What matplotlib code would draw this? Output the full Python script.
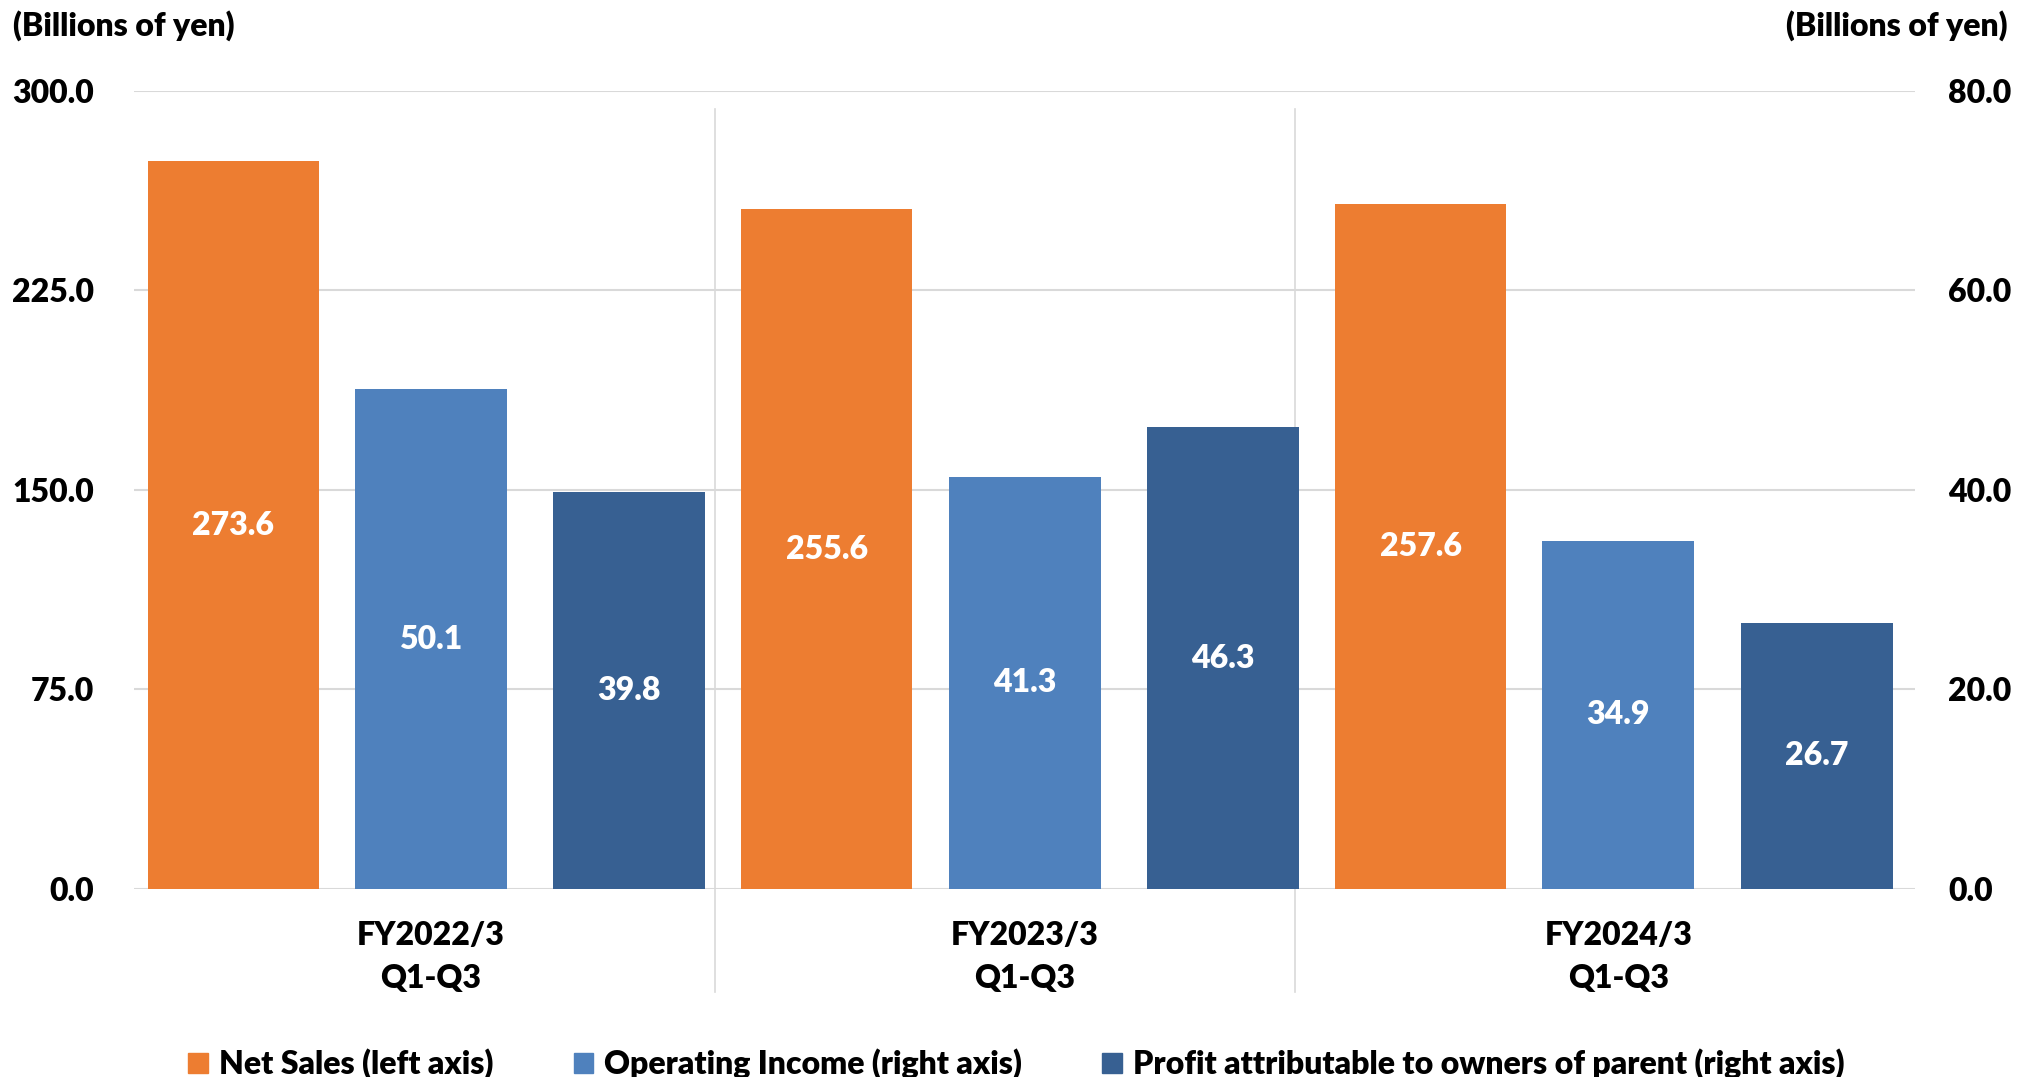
import numpy as np
import matplotlib
matplotlib.use("Agg")
import matplotlib.pyplot as plt
from matplotlib.patches import Patch

plt.rcParams['font.family'] = ['Lato', 'DejaVu Sans']
plt.rcParams['font.weight'] = 'heavy'

## data
periods = ["FY2022/3\nQ1-Q3", "FY2023/3\nQ1-Q3", "FY2024/3\nQ1-Q3"]
net_sales = [273.6, 255.6, 257.6]        # left axis
operating_income = [50.1, 41.3, 34.9]   # right axis
profit_parent = [39.8, 46.3, 26.7]      # right axis
left_ticks = [0, 75, 150, 225, 300]
right_ticks = [0, 20, 40, 60, 80]

c_orange = "#ED7D31"
c_light = "#4F81BD"
c_dark = "#376092"
c_grid = "#D9D9D9"
fs = 23
fw = "heavy"

fig = plt.figure(figsize=(20.33, 10.77), dpi=100)
ax1 = fig.add_axes([0.0659, 0.1746, 0.8761, 0.7409])
ax2 = ax1.twinx()

x = np.arange(len(periods))

# bars
b1 = ax1.bar(x - 0.333, net_sales, 0.288, color=c_orange, zorder=3)
b2 = ax2.bar(x, operating_income, 0.256, color=c_light, zorder=3)
b3 = ax2.bar(x + 0.334, profit_parent, 0.256, color=c_dark, zorder=3)

# value labels in the middle of each bar
for bars, vals, ax in [(b1, net_sales, ax1), (b2, operating_income, ax2), (b3, profit_parent, ax2)]:
    for rect, v in zip(bars, vals):
        ax.text(rect.get_x() + rect.get_width() / 2, v / 2, f"{v:.1f}",
                ha="center", va="center", color="white", fontsize=fs, fontweight=fw, zorder=4)

# axes
ax1.set_xlim(-0.5, 2.5)
ax1.set_ylim(0, 300)
ax2.set_ylim(0, 80)
ax1.set_yticks(left_ticks)
ax1.set_yticklabels([f"{t:.1f}" for t in left_ticks], fontweight=fw)
ax2.set_yticks(right_ticks)
ax2.set_yticklabels([f"{t:.1f}" for t in right_ticks], fontweight=fw)
ax1.set_xticks(x)
ax1.set_xticklabels(periods, linespacing=1.6, fontweight=fw)

ax1.tick_params(axis="y", length=0, labelsize=fs, pad=29)
ax2.tick_params(axis="y", length=0, labelsize=fs, pad=24)
ax1.tick_params(axis="x", length=0, labelsize=fs, pad=23)

for ax in (ax1, ax2):
    for s in ax.spines.values():
        s.set_visible(False)

ax1.yaxis.grid(True, color=c_grid, linewidth=1.5, zorder=0)
ax1.set_axisbelow(True)

# group separators
for sx in [0.479, 1.456]:
    ax1.plot([sx, sx], [-0.129, 0.977], color=c_grid, linewidth=1.2,
             transform=ax1.get_xaxis_transform(), clip_on=False, zorder=1)

# unit labels
fig.text(13 / 2033, 1 - 26 / 1077, "(Billions of yen)", ha="left", va="center", fontsize=fs, fontweight=fw)
fig.text(2008 / 2033, 1 - 26 / 1077, "(Billions of yen)", ha="right", va="center", fontsize=fs, fontweight=fw)

handles = [Patch(color=c_orange), Patch(color=c_light), Patch(color=c_dark)]
labels = ["Net Sales (left axis)", "Operating Income (right axis)",
          "Profit attributable to owners of parent (right axis)"]
fig.legend(handles, labels, loc="center", bbox_to_anchor=(0.5, 1 - 1064 / 1077), ncol=3,
           frameon=False, prop={"size": fs, "weight": fw}, handlelength=0.62, handleheight=0.62,
           handletextpad=0.35, columnspacing=2.5)

fig.savefig("out.png", dpi=100)
